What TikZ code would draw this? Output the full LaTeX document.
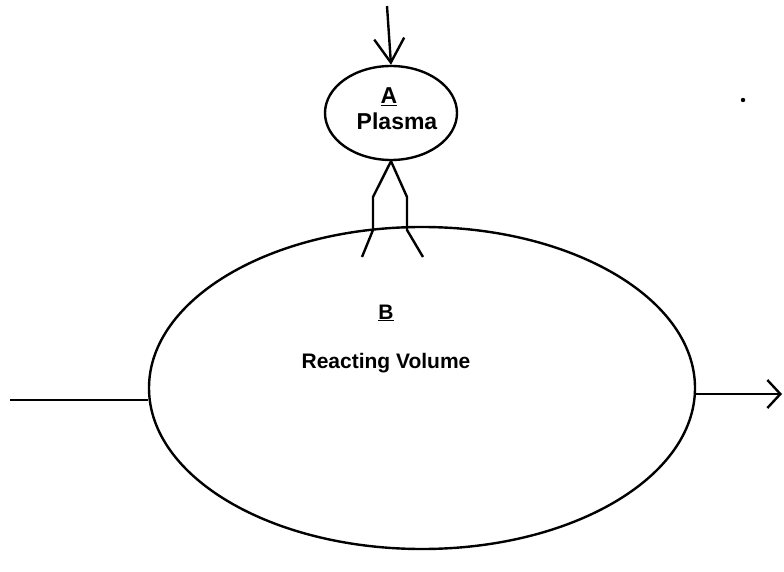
\documentclass[tikz,border=0pt]{standalone}
\usepackage{fontspec}
\setmainfont{Liberation Sans}
\usetikzlibrary{arrows.meta,shapes.geometric}
\begin{document}
\begin{tikzpicture}[x=1pt,y=-1pt,
  line width=2.4pt,
  blob/.style={draw,ellipse,inner sep=0pt},
  lbl/.style={font=\bfseries\fontsize{21}{24}\selectfont,inner sep=0pt},
  lblA/.style={font=\bfseries\fontsize{23}{26}\selectfont,inner sep=0pt},
  ]
\useasboundingbox (0,0) rectangle (784,572);
% nodes
\node[blob,minimum width=132pt,minimum height=94pt] (A) at (391,113) {};
\node[blob,minimum width=546pt,minimum height=322pt] (B) at (422,388) {};
\node[lblA] (Alet) at (389,97) {\underline{A}};
\node[lblA] (Atxt) at (397,121) {Plasma};
\node[lbl] (Blet) at (386,313) {\underline{B}};
\node[lbl] (Btxt) at (386,363) {Reacting Volume};
% free ends
\coordinate (top) at (387,6);
\coordinate (inl) at (10,400);
\coordinate (outr) at (782,394);
\coordinate (l1) at (373,197);
\coordinate (l2) at (373,230);
\coordinate (l3) at (362,257);
\coordinate (r1) at (407,197);
\coordinate (r2) at (407,230);
\coordinate (r3) at (423,257);
\coordinate (speck) at (743,100);
% connectors
\draw[-{Straight Barb[length=24pt,width=30pt,line width=2.4pt]}] (top) -- (A.north);
\draw (A.south) -- (l1) -- (l2) -- (l3);
\draw (A.south) -- (r1) -- (r2) -- (r3);
\draw (inl) -- ([yshift=-12pt]B.west);
\draw[-{Straight Barb[length=13pt,width=28pt,line width=2.4pt]}] ([yshift=-6pt]B.east) -- (outr);
\fill (speck) circle (2.2pt);
\end{tikzpicture}
\end{document}
